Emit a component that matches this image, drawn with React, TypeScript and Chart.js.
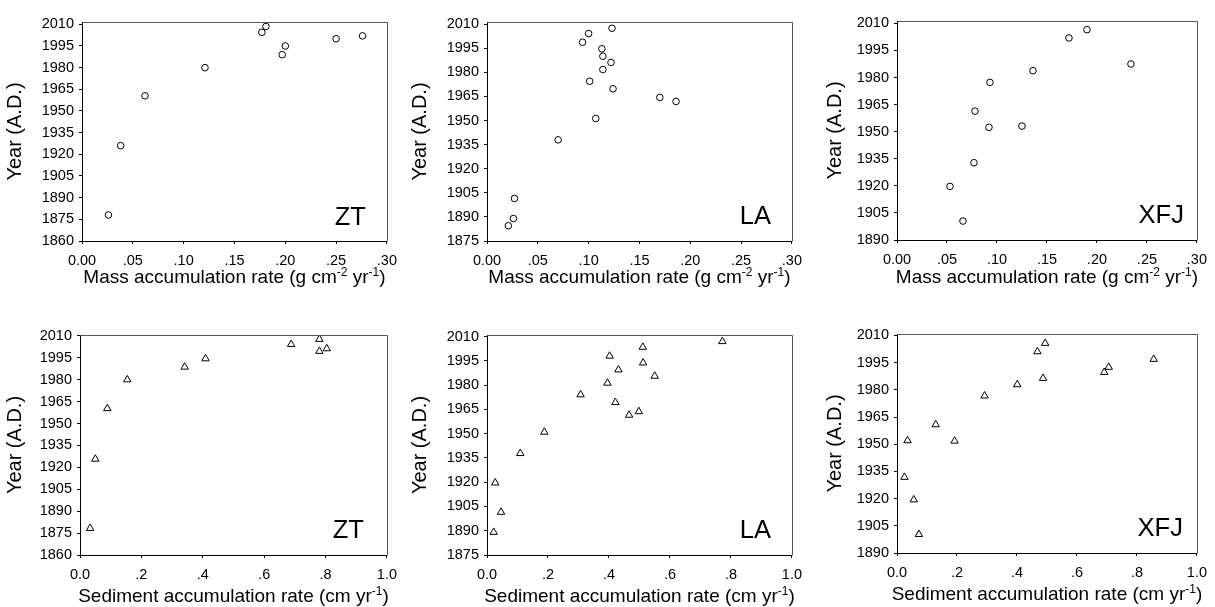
import React, { useEffect, useRef } from "react";
import { Chart, registerables } from "chart.js";
Chart.register(...registerables);

// ---- tick values and labels ----
const massTicks = [0, 0.05, 0.1, 0.15, 0.2, 0.25, 0.3];
const massTickLabels = ["0.00", ".05", ".10", ".15", ".20", ".25", ".30"];
const sedTicks = [0, 0.2, 0.4, 0.6, 0.8, 1.0];
const sedTickLabels = ["0.0", ".2", ".4", ".6", ".8", "1.0"];
const yearTicksZT = [1860, 1875, 1890, 1905, 1920, 1935, 1950, 1965, 1980, 1995, 2010];
const yearTicksLA = [1875, 1890, 1905, 1920, 1935, 1950, 1965, 1980, 1995, 2010];
const yearTicksXFJ = [1890, 1905, 1920, 1935, 1950, 1965, 1980, 1995, 2010];

const siteNames = ["ZT", "LA", "XFJ"];
const yTitle = "Year (A.D.)";
const massTitle = [["Mass accumulation rate (g cm", false], ["-2", true], [" yr", false], ["-1", true], [")", false]];
const sedTitle = [["Sediment accumulation rate (cm yr", false], ["-1", true], [")", false]];

// ---- series ----
const ztMassX = [0.026, 0.038, 0.062, 0.121, 0.177, 0.181, 0.197, 0.2, 0.25, 0.276];
const ztMassY = [1878, 1926, 1960.5, 1980, 2004.5, 2008.5, 1989, 1995, 2000, 2002];

const laMassX = [0.021, 0.026, 0.027, 0.07, 0.107, 0.101, 0.114, 0.124, 0.122, 0.114, 0.113, 0.094, 0.1, 0.123, 0.17, 0.186];
const laMassY = [1884.5, 1889, 1901.5, 1938, 1951.3, 1974.5, 1981.8, 1969.8, 1986.2, 1990.1, 1994.7, 1998.8, 2004.2, 2007.5, 1964.4, 1961.9];

const xfjMassX = [0.053, 0.066, 0.077, 0.078, 0.092, 0.093, 0.125, 0.136, 0.172, 0.19, 0.234];
const xfjMassY = [1919.7, 1900.5, 1932.8, 1961.4, 1952.4, 1977.3, 1953.1, 1983.8, 2001.9, 2006.5, 1987.5];

const ztSedX = [0.033, 0.05, 0.089, 0.154, 0.341, 0.409, 0.688, 0.78, 0.78, 0.804];
const ztSedY = [1878.3, 1925.7, 1960.3, 1980, 1988.7, 1994.4, 2004.2, 2007.7, 1999.5, 2001.3];

const laSedX = [0.022, 0.046, 0.027, 0.109, 0.188, 0.307, 0.395, 0.421, 0.402, 0.431, 0.466, 0.498, 0.511, 0.512, 0.55, 0.772];
const laSedY = [1889.1, 1901.5, 1919.6, 1937.8, 1951, 1974.1, 1981.3, 1969.3, 1998, 1989.5, 1961.5, 1963.7, 2003.5, 1993.8, 1985.6, 2007];

const xfjSedX = [0.025, 0.035, 0.056, 0.073, 0.129, 0.192, 0.292, 0.401, 0.468, 0.494, 0.487, 0.691, 0.706, 0.856];
const xfjSedY = [1931.8, 1952, 1919.4, 1900.3, 1960.8, 1951.8, 1976.7, 1982.9, 2001.1, 2005.7, 1986.4, 1989.7, 1992.5, 1996.9];

const panels = [
  { name: siteNames[0], xs: ztMassX, ys: ztMassY, xTicks: massTicks, xLabels: massTickLabels, xMax: 0.3, yTicks: yearTicksZT, yMin: 1860, yMax: 2011.6, title: massTitle, marker: "circle" },
  { name: siteNames[1], xs: laMassX, ys: laMassY, xTicks: massTicks, xLabels: massTickLabels, xMax: 0.3, yTicks: yearTicksLA, yMin: 1875, yMax: 2011.4, title: massTitle, marker: "circle" },
  { name: siteNames[2], xs: xfjMassX, ys: xfjMassY, xTicks: massTicks, xLabels: massTickLabels, xMax: 0.3, yTicks: yearTicksXFJ, yMin: 1890, yMax: 2011.3, title: massTitle, marker: "circle" },
  { name: siteNames[0], xs: ztSedX, ys: ztSedY, xTicks: sedTicks, xLabels: sedTickLabels, xMax: 1.0, yTicks: yearTicksZT, yMin: 1860, yMax: 2010.6, title: sedTitle, marker: "triangle" },
  { name: siteNames[1], xs: laSedX, ys: laSedY, xTicks: sedTicks, xLabels: sedTickLabels, xMax: 1.0, yTicks: yearTicksLA, yMin: 1875, yMax: 2011, title: sedTitle, marker: "triangle" },
  { name: siteNames[2], xs: xfjSedX, ys: xfjSedY, xTicks: sedTicks, xLabels: sedTickLabels, xMax: 1.0, yTicks: yearTicksXFJ, yMin: 1890, yMax: 2010.8, title: sedTitle, marker: "triangle" },
];

// ---- layout (pixels) ----
const layouts = [
  { left: 0, top: 0, w: 405, h: 300, axisW: 82, axisH: 59, padTop: 22, padRight: 17, yTitlePad: 4, titleDrop: 42, labelInset: 21, labelRaise: 16, xTickPad: 8 },
  { left: 405, top: 0, w: 405, h: 300, axisW: 82, axisH: 59, padTop: 22, padRight: 16, yTitlePad: 4, titleDrop: 42, labelInset: 21, labelRaise: 17, xTickPad: 8 },
  { left: 810, top: 0, w: 405, h: 300, axisW: 87, axisH: 60, padTop: 21, padRight: 12, yTitlePad: 14, titleDrop: 42.5, labelInset: 13, labelRaise: 17, xTickPad: 8 },
  { left: 0, top: 300, w: 405, h: 307, axisW: 80, axisH: 52, padTop: 35, padRight: 18, yTitlePad: 4, titleDrop: 46.5, labelInset: 23, labelRaise: 17, xTickPad: 8 },
  { left: 405, top: 300, w: 405, h: 307, axisW: 82, axisH: 52, padTop: 35, padRight: 16, yTitlePad: 4, titleDrop: 46.5, labelInset: 21, labelRaise: 17, xTickPad: 8 },
  { left: 810, top: 300, w: 405, h: 307, axisW: 87, axisH: 54, padTop: 34, padRight: 12, yTitlePad: 14, titleDrop: 46.5, labelInset: 14, labelRaise: 17, xTickPad: 8 },
];

const FONT = '"Liberation Sans", Arial, sans-serif';

const panelPlugin = {
  id: "panelDecor",
  afterDraw(chart: any, _args: any, opts: any) {
    const { ctx, chartArea } = chart;
    const { left, right, top, bottom } = chartArea;
    ctx.save();
    // top and right frame
    ctx.lineWidth = 1;
    ctx.strokeStyle = "#555";
    ctx.beginPath();
    ctx.moveTo(Math.round(left) + 0.5, Math.round(top) + 0.5);
    ctx.lineTo(Math.round(right) + 0.5, Math.round(top) + 0.5);
    ctx.lineTo(Math.round(right) + 0.5, Math.round(bottom) + 0.5);
    ctx.stroke();
    // site label
    ctx.fillStyle = "#000";
    ctx.font = "25.5px " + FONT;
    ctx.textAlign = "right";
    ctx.textBaseline = "alphabetic";
    ctx.fillText(opts.label, right - opts.labelInset, bottom - opts.labelRaise);
    // x title with superscripts
    const segs = opts.title as any[];
    const mainFont = "19px " + FONT;
    const supFont = "12px " + FONT;
    let total = 0;
    const widths = segs.map((s) => {
      ctx.font = s[1] ? supFont : mainFont;
      const w = ctx.measureText(s[0]).width;
      total += w;
      return w;
    });
    let x = (left + right) / 2 - total / 2;
    const baseY = bottom + opts.titleDrop;
    ctx.textAlign = "left";
    segs.forEach((s, i) => {
      ctx.font = s[1] ? supFont : mainFont;
      ctx.fillText(s[0], x, s[1] ? baseY - 7 : baseY);
      x += widths[i];
    });
    ctx.restore();
  },
};

export default function App() {
  const refs = useRef<(HTMLCanvasElement | null)[]>([]);

  useEffect(() => {
    const charts: Chart[] = [];
    panels.forEach((p, i) => {
      const L = layouts[i];
      const canvas = refs.current[i];
      if (!canvas) return;
      const pts = p.xs.map((x, k) => ({ x, y: p.ys[k] }));
      const chart = new Chart(canvas, {
        type: "scatter",
        data: {
          datasets: [
            {
              data: pts,
              pointStyle: p.marker as any,
              pointRadius: p.marker === "circle" ? 3.3 : 4.3,
              pointBorderWidth: 1,
              pointBorderColor: "#000",
              pointBackgroundColor: "rgba(255,255,255,0)",
            },
          ],
        },
        options: {
          responsive: false,
          animation: false,
          events: [],
          layout: { padding: { top: L.padTop, right: L.padRight, left: 0, bottom: 0 } },
          plugins: {
            legend: { display: false },
            tooltip: { enabled: false },
            panelDecor: { label: p.name, title: p.title, titleDrop: L.titleDrop, labelInset: L.labelInset, labelRaise: L.labelRaise },
          } as any,
          scales: {
            x: {
              type: "linear",
              min: 0,
              max: p.xMax,
              afterBuildTicks: (s: any) => {
                s.ticks = p.xTicks.map((v) => ({ value: v }));
              },
              afterFit: (s: any) => {
                s.height = L.axisH;
              },
              ticks: {
                autoSkip: false,
                maxRotation: 0,
                padding: L.xTickPad,
                color: "#000",
                font: { family: FONT, size: 14.5 },
                callback: (_v: any, idx: number) => p.xLabels[idx],
              },
              grid: { display: true, drawOnChartArea: false, drawTicks: true, tickLength: 3, tickColor: "#000" },
              border: { display: true, color: "#000", width: 1 },
            },
            y: {
              type: "linear",
              min: p.yMin,
              max: p.yMax,
              afterBuildTicks: (s: any) => {
                s.ticks = p.yTicks.map((v) => ({ value: v }));
              },
              afterFit: (s: any) => {
                s.width = L.axisW;
              },
              ticks: {
                autoSkip: false,
                padding: 5,
                color: "#000",
                font: { family: FONT, size: 14.5 },
                callback: (v: any) => String(v),
              },
              grid: { display: true, drawOnChartArea: false, drawTicks: true, tickLength: 3, tickColor: "#000" },
              border: { display: true, color: "#000", width: 1 },
              title: {
                display: true,
                text: yTitle,
                color: "#000",
                font: { family: FONT, size: 20 },
                padding: { top: L.yTitlePad - 0.5, bottom: 0 },
              },
            },
          },
        },
        plugins: [panelPlugin],
      });
      charts.push(chart);
    });
    return () => charts.forEach((c) => c.destroy());
  }, []);

  return (
    <div style={{ position: "fixed", left: 0, top: 0, width: 1215, height: 607, background: "#fff" }}>
      {layouts.map((L, i) => (
        <div key={i} style={{ position: "absolute", left: L.left, top: L.top, width: L.w, height: L.h }}>
          <canvas
            ref={(el) => {
              refs.current[i] = el;
            }}
            width={L.w}
            height={L.h}
            style={{ display: "block", width: L.w, height: L.h }}
          />
        </div>
      ))}
    </div>
  );
}
